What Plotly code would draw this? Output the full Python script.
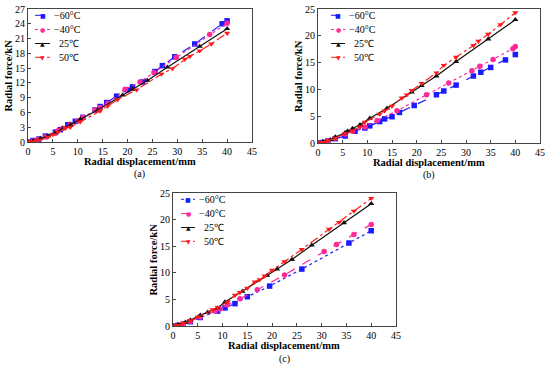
import plotly.graph_objects as go

# ---------------- data ----------------
names = ["\u221260\u00b0C", "\u221240\u00b0C", "\u00a0\u00a025\u2103", "\u00a0\u00a050\u2103"]

# panel (a)
a_m60_x = [0, 1, 2.2, 3.5, 5.5, 6.5, 8, 9.5, 11, 13.5, 14.5, 15.8, 17.8, 20, 21, 23, 25.5, 27, 29.5, 33.5, 39, 40]
a_m60_y = [0, 0.3, 0.6, 1.2, 2.0, 2.5, 3.5, 4.2, 5.0, 6.5, 7.2, 8.0, 9.3, 10.6, 11.2, 12.2, 14.3, 15.5, 17.3, 19.9, 24.0, 24.6]
a_m40_x = [0, 1, 2, 3.5, 5.5, 6, 7, 8.5, 10, 11, 13.5, 14.5, 16, 19.5, 22.5, 25.3, 29.8, 36.5, 40]
a_m40_y = [0, 0.2, 0.5, 1.0, 1.8, 2.3, 2.8, 3.6, 4.3, 5.0, 6.5, 7.0, 7.8, 10.7, 12.2, 14.1, 17.2, 21.8, 24.1]
a_25_x = [0, 1, 2.5, 4, 5.5, 7, 8.5, 10.5, 14, 19, 21, 24, 28, 34.5, 40]
a_25_y = [0, 0.2, 0.7, 1.2, 1.9, 2.7, 3.5, 4.6, 6.5, 9.5, 10.7, 12.5, 15.2, 19.4, 23.0]
a_50_x = [0, 1, 2.2, 4, 5, 6, 7.5, 8.5, 10.5, 14.5, 16, 18, 21.8, 26.8, 29, 31.5, 32.5, 34.5, 36.8, 40]
a_50_y = [0, 0.1, 0.4, 1.0, 1.5, 2.0, 2.8, 3.0, 4.1, 6.3, 7.3, 8.6, 10.6, 13.8, 14.9, 16.8, 17.4, 18.5, 19.9, 22.1]

# panel (b)
b_m60_x = [0, 1, 2, 3.5, 5.5, 7.5, 9.5, 10.5, 12.5, 13.5, 15, 16.5, 19.5, 24, 25.5, 28, 31.5, 33, 35, 38, 40]
b_m60_y = [0, 0.1, 0.4, 0.8, 1.3, 2.2, 2.8, 3.2, 4.0, 4.5, 4.9, 5.7, 7.0, 9.0, 9.7, 10.8, 12.5, 13.2, 14.1, 15.5, 16.5]
b_m40_x = [0, 1, 2, 3.5, 5.5, 7, 9.5, 12, 16, 22, 26.5, 31.2, 32.8, 35.5, 39.5, 40]
b_m40_y = [0, 0.1, 0.4, 0.9, 1.7, 2.2, 3.0, 4.2, 6.0, 9.0, 11.2, 13.5, 14.3, 15.6, 17.6, 18.0]
b_25_x = [0, 1, 2.5, 3.5, 5.5, 6, 7, 8.5, 10.5, 14, 19, 21, 24, 28, 34.5, 40]
b_25_y = [0, 0.3, 0.6, 1.1, 1.9, 2.2, 2.7, 3.4, 4.6, 6.5, 9.5, 10.7, 12.5, 15.2, 19.4, 23.0]
b_50_x = [0, 1, 2, 3.5, 5.5, 7, 8.5, 9.5, 12.5, 13.5, 15, 17, 18, 19, 21, 24, 25.5, 28, 31.5, 32.5, 34.5, 37, 40]
b_50_y = [0, 0.1, 0.4, 0.9, 1.8, 2.3, 3.0, 3.9, 5.4, 6.0, 6.9, 8.4, 9.0, 9.8, 11.1, 13.1, 14.5, 16.0, 18.2, 19.0, 20.3, 22.1, 24.3]

# panel (c)
c_m60_x = [0, 1, 2, 3.5, 5.5, 9, 10.5, 12.5, 15, 19.5, 26, 35.5, 40]
c_m60_y = [0, 0.1, 0.3, 0.8, 1.6, 2.8, 3.4, 4.2, 5.5, 7.5, 10.7, 15.6, 17.9]
c_m40_x = [0, 1, 2, 3.5, 5.5, 8.5, 9.5, 11, 13.5, 17, 22.5, 30.5, 33, 36.5, 40]
c_m40_y = [0, 0.1, 0.4, 0.9, 1.7, 2.8, 3.2, 4.0, 5.1, 6.8, 9.6, 14.0, 15.3, 17.2, 19.1]
c_25_x = [0, 1, 2.5, 3.5, 5.5, 7, 9, 10.5, 14, 19, 21, 24, 28, 34.5, 40]
c_25_y = [0, 0.3, 0.7, 1.1, 2.0, 2.6, 3.4, 4.5, 6.5, 9.5, 10.7, 12.5, 15.2, 19.4, 23.0]
c_50_x = [0, 1, 2, 3.5, 5, 8, 9, 11, 12.5, 13.5, 15, 16.5, 17.5, 18.5, 20, 22.5, 26, 31.5, 33.5, 36.5, 40]
c_50_y = [0, 0.1, 0.5, 1.0, 1.7, 3.1, 3.5, 4.5, 5.8, 6.3, 7.1, 8.3, 8.7, 9.4, 10.5, 12.1, 14.4, 18.2, 19.5, 21.6, 24.0]

x_ticks = [0, 5, 10, 15, 20, 25, 30, 35, 40, 45]
ya_ticks = [0, 3, 6, 9, 12, 15, 18, 21, 24, 27]
ybc_ticks = [0, 5, 10, 15, 20, 25]
panel_labels = ["(a)", "(b)", "(c)"]

# ---------------- styles ----------------
FONT = "Liberation Serif, Times New Roman, serif"
colors = ["#1a1aff", "#ff2a9a", "#111111", "#ff1a1a"]
symbols = ["square", "circle", "triangle-up", "triangle-down"]
glyphs = ["\u25a0", "\u25cf", "\u25b2", "\u25bc"]
W, H = 550, 370

fig = go.Figure()

panels = [
    dict(data=[(a_m60_x, a_m60_y), (a_m40_x, a_m40_y), (a_25_x, a_25_y), (a_50_x, a_50_y)],
         dashes=["dash", "dot", "solid", "dashdot"], xa="x", ya="y",
         box=(28, 252, 9, 142), yticks=ya_ticks, yr=[0, 27], leg=(7, 22, 24)),
    dict(data=[(b_m60_x, b_m60_y), (b_m40_x, b_m40_y), (b_25_x, b_25_y), (b_50_x, b_50_y)],
         dashes=["dash", "dot", "solid", "dashdot"], xa="x2", ya="y2",
         box=(318, 540, 9, 143), yticks=ybc_ticks, yr=[0, 25], leg=(13, 27, 29)),
    dict(data=[(c_m60_x, c_m60_y), (c_m40_x, c_m40_y), (c_25_x, c_25_y), (c_50_x, c_50_y)],
         dashes=["dot", "dash", "solid", "dashdot"], xa="x3", ya="y3",
         box=(173, 396, 193, 326), yticks=ybc_ticks, yr=[0, 25], leg=(8, 22, 24)),
]

for p in panels:
    for i, (xs, ys) in enumerate(p["data"]):
        fig.add_trace(go.Scatter(
            x=xs, y=ys, name=names[i], mode="lines+markers", showlegend=False,
            line=dict(color=colors[i], width=1.2, dash=p["dashes"][i]),
            marker=dict(symbol=symbols[i], size=5.5, color=colors[i]),
            xaxis=p["xa"], yaxis=p["ya"],
        ))

layout = dict(
    width=W, height=H, margin=dict(l=0, r=0, t=0, b=0),
    paper_bgcolor="white", plot_bgcolor="white",
    font=dict(family=FONT, size=10, color="black"),
    showlegend=False,
)

axis_common = dict(showgrid=False, zeroline=False, showline=True, mirror=True,
                   linecolor="#444444", linewidth=1, ticks="inside", ticklen=3,
                   tickcolor="#444444", automargin=False,
                   tickfont=dict(family=FONT, size=10, color="black"))

def px(x):
    return x / W

def py(y):
    return 1 - y / H

annotations = []
shapes = []
legend_offsets = [6.3, 20.5, 34.5, 48.3]
for k, p in enumerate(panels):
    L, R, T, B = p["box"]
    xkey = "xaxis" if k == 0 else f"xaxis{k+1}"
    ykey = "yaxis" if k == 0 else f"yaxis{k+1}"
    layout[xkey] = dict(axis_common, domain=[px(L), px(R)], range=[0, 45], tickvals=x_ticks,
                        anchor=p["ya"])
    layout[ykey] = dict(axis_common, domain=[py(B), py(T)], range=p["yr"], tickvals=p["yticks"],
                        anchor=p["xa"])
    xm = px((L + R) / 2)
    annotations.append(dict(text="<b>Radial displacement/mm</b>", x=xm, y=py(B + 19.5),
                            xref="paper", yref="paper", showarrow=False, xanchor="center",
                            yanchor="middle", font=dict(family=FONT, size=10.5)))
    annotations.append(dict(text="<b>Radial force/kN</b>", x=px(L - 20),
                            y=py((T + B) / 2), xref="paper", yref="paper",
                            showarrow=False, textangle=-90, xanchor="center", yanchor="middle",
                            font=dict(family=FONT, size=10.5)))
    annotations.append(dict(text=panel_labels[k], x=xm, y=py(B + 32.5),
                            xref="paper", yref="paper", showarrow=False, xanchor="center",
                            yanchor="middle", font=dict(family=FONT, size=10)))
    # manual legend
    l0, l1, lt = p["leg"]
    for i in range(4):
        yy = T + legend_offsets[i]
        shapes.append(dict(type="line", xref="paper", yref="paper",
                           x0=px(L + l0), x1=px(L + l1), y0=py(yy), y1=py(yy),
                           line=dict(color=colors[i], width=1, dash=p["dashes"][i])))
        annotations.append(dict(text=glyphs[i], x=px(L + (l0 + l1) / 2), y=py(yy),
                                xref="paper", yref="paper", showarrow=False,
                                xanchor="center", yanchor="middle",
                                font=dict(family="DejaVu Sans", size=6, color=colors[i])))
        annotations.append(dict(text=names[i], x=px(L + lt), y=py(yy),
                                xref="paper", yref="paper", showarrow=False,
                                xanchor="left", yanchor="middle",
                                font=dict(family=FONT, size=10, color="black")))

layout["annotations"] = annotations
layout["shapes"] = shapes
fig.update_layout(**layout)
fig.write_html("out.html", config={"displayModeBar": False},
               post_script="document.body.style.margin='0';document.body.style.overflow='hidden';")
